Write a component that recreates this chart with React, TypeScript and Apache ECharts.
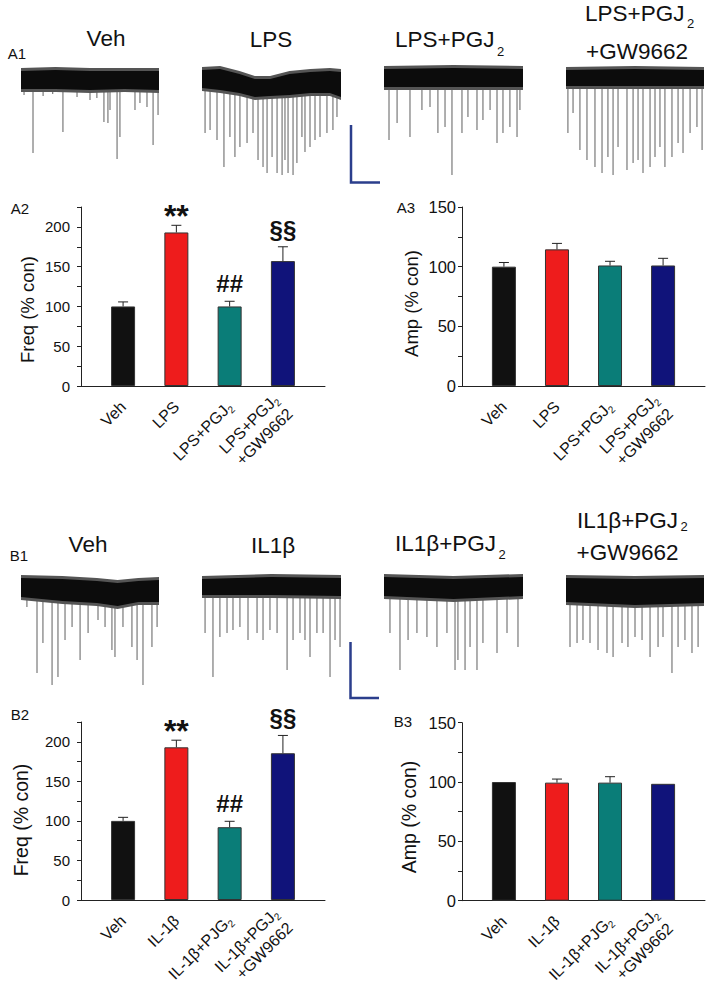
import React, { useEffect, useRef } from 'react';
import * as echarts from 'echarts';

const FONT = '"Liberation Sans", Arial, Helvetica, sans-serif';

// ---------- bar chart data ----------
const catsA = ['Veh', 'LPS', 'LPS+PGJ{s|2}', 'LPS+PGJ{s|2}\n+GW9662'];
const catsB = ['Veh', 'IL-1β', 'IL-1β+PJG{s|2}', 'IL-1β+PGJ{s|2}\n+GW9662'];
const freqA = [100, 193, 100, 157];
const freqAErr = [5.7, 9, 6.5, 18];
const ampA = [100, 114.5, 101, 101];
const ampAErr = [3.5, 5, 3.5, 6];
const freqB = [100, 193, 92, 185.5];
const freqBErr = [4.5, 9, 7.5, 22.5];
const ampB = [100, 99.5, 99.5, 98.5];
const ampBErr = [0, 3, 5, 0];
const sigFreq = ['', '**', '##', '§§'];
const sigNone = ['', '', '', ''];
const freqTicks = [0, 50, 100, 150, 200];
const ampTicks = [0, 50, 100, 150];
const freqName = 'Freq (% con)';
const ampName = 'Amp (% con)';

// ---------- trace data: events [time %, amplitude], band envelope [time %, upper, lower] ----------
const evVehA = [[2.2,15],[8.7,73],[16,16],[23,14],[30.4,52],[40.6,17],[50,20],[55,18],[60.1,42],[63,43],[64.5,30],[69.6,79],[71.7,57],[82.6,30],[86.2,23],[91.3,27],[95.7,65],[99.3,35]];
const bandVehA = [[0,9,-9],[25,10,-9],[50,9,-10],[75,9,-9],[100,9,-10]];
const evLpsA = [[2.2,53],[5.8,50],[10.8,60],[15.8,87],[20.1,57],[23.7,77],[27.3,67],[32.4,63],[36.7,53],[40.3,80],[43.9,87],[46.8,93],[50.4,77],[54,93],[57.6,95],[59.7,80],[61.9,93],[65.5,95],[68.3,83],[71.9,57],[74.1,72],[77.7,67],[81.3,60],[84.9,57],[89.9,53],[94.2,50],[97.1,37]];
const bandLpsA = [[0,10,-8],[13,11,-10],[27,6,-13],[38,1,-17],[49,1,-16],[63,6,-15],[78,8,-13],[92,9,-13],[100,8,-17]];
const evPgjA = [[3.6,62],[9.4,45],[18.7,59],[27.3,32],[33.1,29],[38.8,55],[43.9,49],[48.9,97],[56.1,55],[60.4,39],[66.9,52],[71.2,42],[76.3,32],[81.3,65],[85.6,55],[90.6,49],[95.7,59],[97.8,32]];
const bandPgjA = [[0,9,-9],[50,10,-9],[100,9,-9]];
const evGwA = [[1.4,55],[5.1,35],[10.1,72],[15.2,82],[21,89],[26.1,95],[30.4,79],[34.1,97],[37.7,69],[44.2,92],[48.6,85],[52.2,82],[55.8,95],[60.9,89],[64.5,79],[68.1,69],[71.7,89],[76.8,79],[81.2,65],[84.8,75],[89.9,55],[94.9,49],[98.6,72]];
const bandGwA = [[0,8,-8],[50,9,-8],[100,8,-8]];
const evVehB = [[4.3,18],[11.6,84],[15.9,54],[22.5,96],[26.8,88],[31.9,51],[37,38],[42.8,71],[48.6,44],[55.8,31],[60.9,38],[65.9,61],[68.1,68],[73.9,38],[80.4,58],[84.1,71],[88.4,96],[94.9,58],[98.6,38]];
const bandVehB = [[0,11,-8],[30,10,-12],[55,8,-14],[70,6,-17],[85,8,-13],[100,9,-13]];
const evIlB = [[2.2,46],[7.9,90],[12.9,50],[18,46],[22.3,43],[27.3,40],[33.1,53],[39.6,46],[43.9,53],[48.9,43],[54,46],[61.2,83],[65.5,53],[70.5,46],[74.1,53],[77.7,70],[82.7,46],[87.1,46],[92.1,90],[95.7,53],[99.3,60]];
const bandIlB = [[0,8,-8],[50,10,-8],[100,9,-9]];
const evPgjB = [[4.3,46],[11.5,83],[17.3,53],[23.7,46],[30.9,50],[38.1,60],[45.3,46],[51.1,83],[53.2,73],[58.3,83],[61.9,60],[66.9,83],[71.2,56],[81.3,66],[88.5,46],[96.4,60]];
const bandPgjB = [[0,10,-9],[50,8,-12],[100,10,-9]];
const evGwB = [[2.9,57],[8,53],[12.3,50],[17.4,53],[23.2,60],[29.7,63],[34.1,67],[40.6,53],[44.9,57],[50,47],[55.1,50],[60.9,67],[66.7,57],[70.3,47],[76.8,83],[81.2,57],[86.2,50],[91.3,63],[95.7,57]];
const bandGwB = [[0,12,-12],[50,11,-15],[100,12,-13]];

// ---------- titles ----------
const titleVeh = 'Veh';
const titleLps = 'LPS';
const titleLpsPgj = 'LPS+PGJ';
const titleIl = 'IL1β';
const titleIlPgj = 'IL1β+PGJ';
const titleGw = '+GW9662';
const subTwo = '2';

const BAR_COLORS = ['#111111', '#ee1c1c', '#0a7d78', '#10137a'];
const SIG_STYLE: Record<string, { fs: number; dy: number }> = {
  '**': { fs: 32, dy: 9 },
  '##': { fs: 24, dy: 17.5 },
  '§§': { fs: 24, dy: 17.5 },
};

function measure(text: string, fs: number) {
  const c = document.createElement('canvas').getContext('2d');
  if (!c) return text.length * fs * 0.55;
  c.font = `${fs}px "Liberation Sans", Arial, sans-serif`;
  return c.measureText(text).width;
}

export default function App() {
  const ref = useRef<HTMLDivElement>(null);
  useEffect(() => {
    if (!ref.current) return;
    const chart = echarts.init(ref.current, undefined, { renderer: 'svg' });

    const traces = [
      { ev: evVehA, band: bandVehA, left: 21, width: 138, cy: 80 },
      { ev: evLpsA, band: bandLpsA, left: 202, width: 139, cy: 80 },
      { ev: evPgjA, band: bandPgjA, left: 384, width: 139, cy: 78 },
      { ev: evGwA, band: bandGwA, left: 566, width: 138, cy: 78 },
      { ev: evVehB, band: bandVehB, left: 21, width: 138, cy: 589 },
      { ev: evIlB, band: bandIlB, left: 202, width: 139, cy: 587 },
      { ev: evPgjB, band: bandPgjB, left: 384, width: 139, cy: 587 },
      { ev: evGwB, band: bandGwB, left: 566, width: 138, cy: 590 },
    ];

    const bars = [
      { cats: catsA, vals: freqA, err: freqAErr, sig: sigFreq, ticks: freqTicks, max: 225, name: freqName, left: 81, top: 207, width: 244, height: 179, nameX: 27.5, nameY: 309.5, labelFs: 15, labelMargin: 11, nameFs: 18.5 },
      { cats: catsA, vals: ampA, err: ampAErr, sig: sigNone, ticks: ampTicks, max: 150, name: ampName, left: 462, top: 207, width: 243, height: 179, nameX: 411, nameY: 303.5, labelFs: 16.5, labelMargin: 6, nameFs: 18.5 },
      { cats: catsB, vals: freqB, err: freqBErr, sig: sigFreq, ticks: freqTicks, max: 225, name: freqName, left: 81, top: 722, width: 244, height: 178, nameX: 21, nameY: 820, labelFs: 15, labelMargin: 11, nameFs: 19.5 },
      { cats: catsB, vals: ampB, err: ampBErr, sig: sigNone, ticks: ampTicks, max: 150, name: ampName, left: 462, top: 722.7, width: 243, height: 178, nameX: 408.5, nameY: 817, labelFs: 16.5, labelMargin: 6, nameFs: 19.5 },
    ];

    const grid: any[] = [];
    const xAxis: any[] = [];
    const yAxis: any[] = [];
    const series: any[] = [];

    traces.forEach((t, i) => {
      grid.push({ left: t.left, top: t.cy - 25, width: t.width, height: 125 });
      xAxis.push({ gridIndex: i, type: 'value', min: 0, max: 100, show: false });
      yAxis.push({ gridIndex: i, type: 'value', min: -100, max: 25, show: false });
      series.push({
        type: 'custom', xAxisIndex: i, yAxisIndex: i, silent: true, z: 2,
        data: t.ev,
        renderItem: (params: any, api: any) => {
          const p0 = api.coord([api.value(0), 0]);
          const p1 = api.coord([api.value(0), -api.value(1)]);
          return { type: 'line', shape: { x1: p0[0], y1: p0[1], x2: p1[0], y2: p1[1] }, style: { stroke: '#2a2a2a', lineWidth: 1, opacity: 0.75 } };
        },
      });
      series.push({
        type: 'custom', xAxisIndex: i, yAxisIndex: i, silent: true, z: 3,
        data: t.band,
        renderItem: (params: any, api: any) => {
          if (params.dataIndex !== 0) return { type: 'group', children: [] };
          const up = t.band.map((r) => api.coord([r[0], r[1]]));
          const lo = t.band.map((r) => api.coord([r[0], r[2]])).reverse();
          const upO = t.band.map((r) => api.coord([r[0], r[1] + 3]));
          const loO = t.band.map((r) => api.coord([r[0], r[2] - 3])).reverse();
          return {
            type: 'group',
            children: [
              { type: 'polygon', shape: { points: [...upO, ...loO] }, style: { fill: '#555', stroke: null } },
              { type: 'polygon', shape: { points: [...up, ...lo] }, style: { fill: '#0c0c0c', stroke: null } },
            ],
          };
        },
      });
    });

    bars.forEach((b, j) => {
      const gi = traces.length + j;
      grid.push({ left: b.left, top: b.top, width: b.width, height: b.height });
      xAxis.push({
        gridIndex: gi, type: 'value', min: -0.79, max: 3.79,
        splitLine: { show: false },
        axisLine: { show: true, onZero: false, lineStyle: { color: '#222', width: 1 } },
        axisTick: { show: false },
        axisLabel: {
          customValues: [0, 1, 2, 3],
          formatter: (v: number) => b.cats[Math.round(v)] ?? '',
          rotate: 45, fontSize: 16, color: '#111', fontFamily: FONT, margin: 18, lineHeight: 20,
          rich: { s: { fontSize: 10, fontFamily: FONT, color: '#111', verticalAlign: 'bottom', lineHeight: 20 } },
        },
      });
      yAxis.push({
        gridIndex: gi, type: 'value', min: 0, max: b.max, interval: 25,
        splitLine: { show: false },
        axisLine: { show: true, onZero: false, lineStyle: { color: '#222', width: 1 } },
        axisTick: { show: true, length: 4, lineStyle: { color: '#222' } },
        axisLabel: {
          formatter: (v: number) => (b.ticks.indexOf(v) >= 0 ? String(v) : ''),
          fontSize: b.labelFs, color: '#111', fontFamily: FONT, margin: b.labelMargin,
        },
      });
      series.push({
        type: 'bar', xAxisIndex: gi, yAxisIndex: gi, barWidth: 24, silent: true,
        data: b.vals.map((v, i) => ({ value: [i, v], itemStyle: { color: BAR_COLORS[i] } })),
        itemStyle: { borderColor: '#333', borderWidth: 1 },
        z: 2,
      });
      series.push({
        type: 'custom', xAxisIndex: gi, yAxisIndex: gi, silent: true, z: 3,
        data: b.vals.map((v, i) => [i, v, b.err[i]]),
        renderItem: (params: any, api: any) => {
          const x = api.value(0), m = api.value(1), e = api.value(2);
          const p0 = api.coord([x, m]);
          const p1 = api.coord([x, m + e]);
          const children: any[] = [];
          if (e > 0) {
            children.push({ type: 'line', shape: { x1: p0[0], y1: p0[1], x2: p1[0], y2: p1[1] }, style: { stroke: '#222', lineWidth: 1 } });
            children.push({ type: 'line', shape: { x1: p1[0] - 5, y1: p1[1], x2: p1[0] + 5, y2: p1[1] }, style: { stroke: '#222', lineWidth: 1 } });
          }
          const s = b.sig[params.dataIndex];
          if (s) {
            const st = SIG_STYLE[s];
            children.push({ type: 'text', x: p1[0], y: p1[1] - st.dy, style: { text: s, fontSize: st.fs, fontWeight: 'bold', fontFamily: FONT, fill: '#111', align: 'center', verticalAlign: 'middle' } });
          }
          return { type: 'group', children };
        },
      });
    });

    const txt = (text: string, x: number, y: number, fs: number, align = 'center') => ({
      type: 'text', x, y, silent: true,
      style: { text, fontSize: fs, fontFamily: FONT, fill: '#111', align, verticalAlign: 'middle' },
    });
    const TFS = 22.5;
    const subTitle = (main: string, left: number, cy: number, dSub: number) => {
      const w = measure(main, TFS);
      return [txt(main, left, cy, TFS, 'left'), txt(subTwo, left + w + 2.5, cy + dSub, 13, 'left')];
    };

    const graphic: any[] = [
      txt('A1', 17, 53, 15), txt('A2', 20, 208, 15), txt('A3', 406, 207, 15),
      txt('B1', 19, 555, 15), txt('B2', 20, 714, 15), txt('B3', 403, 721, 15),
      txt(titleVeh, 106, 38.5, TFS), txt(titleLps, 271, 39, TFS),
      ...subTitle(titleLpsPgj, 395, 39.5, 12),
      ...subTitle(titleLpsPgj, 585, 13.5, 10),
      txt(titleGw, 637, 51.4, TFS),
      txt(titleVeh, 88, 544.5, TFS), txt(titleIl, 273, 545, TFS),
      ...subTitle(titleIlPgj, 395, 543.5, 11),
      ...subTitle(titleIlPgj, 577, 520.5, 6),
      txt(titleGw, 627.5, 552, TFS),
      ...bars.map((b) => ({ ...txt(b.name, b.nameX, b.nameY, b.nameFs), rotation: Math.PI / 2 })),
      { type: 'polyline', silent: true, shape: { points: [[351, 125], [351, 182.5], [380, 182.5]] }, style: { stroke: '#2b3e8c', lineWidth: 2.5, fill: null } },
      { type: 'polyline', silent: true, shape: { points: [[350.5, 642], [350.5, 698], [379, 698]] }, style: { stroke: '#2b3e8c', lineWidth: 2.5, fill: null } },
    ];

    chart.setOption({
      animation: false,
      backgroundColor: '#ffffff',
      grid, xAxis, yAxis, series, graphic,
    });
    return () => chart.dispose();
  }, []);

  return <div ref={ref} style={{ position: 'absolute', left: 0, top: 0, width: 709, height: 1000 }} />;
}
